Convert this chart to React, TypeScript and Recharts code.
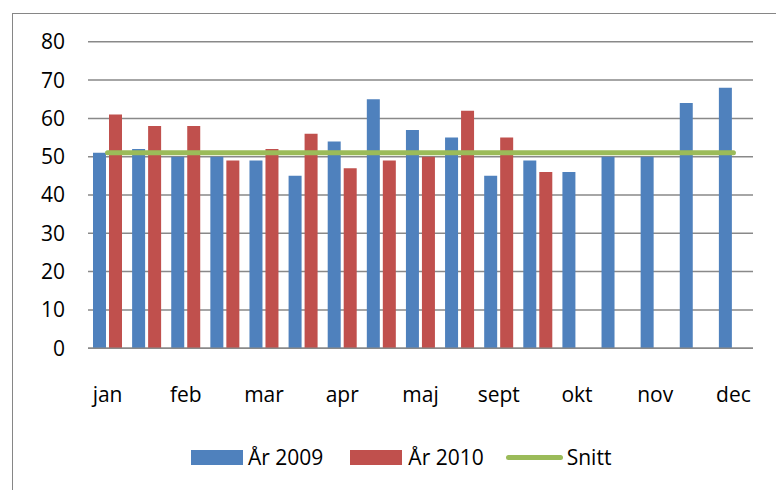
import React from "react";
import { ComposedChart, Bar, Line, XAxis, YAxis, CartesianGrid } from "recharts";

const categories = ["jan", "", "feb", "", "mar", "", "apr", "", "maj", "", "sept", "", "okt", "", "nov", "", "dec"];
const year2009 = [51, 52, 50, 50, 49, 45, 54, 65, 57, 55, 45, 49, 46, 50, 50, 64, 68];
const year2010: (number | null)[] = [61, 58, 58, 49, 52, 56, 47, 49, 50, 62, 55, 46, null, null, null, null, null];
const snitt = [51, 51, 51, 51, 51, 51, 51, 51, 51, 51, 51, 51, 51, 51, 51, 51, 51];
const yTicks = [0, 10, 20, 30, 40, 50, 60, 70, 80];
const seriesNames = ["År 2009", "År 2010", "Snitt"];

const BLUE = "#4F81BD";
const RED = "#C0504D";
const GREEN = "#9BBB59";
const FONT = "'Open Sans', sans-serif";

const data = categories.map((c, i) => ({
  idx: i,
  cat: c,
  a2009: year2009[i],
  a2010: year2010[i],
  snitt: snitt[i],
}));

const LegendBlock = () => (
  <div
    style={{
      position: "absolute",
      left: 191,
      top: 444,
      display: "flex",
      alignItems: "center",
      fontFamily: FONT,
      fontSize: 21,
      color: "#000",
      whiteSpace: "nowrap",
      height: 26,
    }}
  >
    <div style={{ width: 52, height: 15, background: BLUE }} />
    <span style={{ marginLeft: 5 }}>{seriesNames[0]}</span>
    <div style={{ width: 52, height: 15, background: RED, marginLeft: 27 }} />
    <span style={{ marginLeft: 6 }}>{seriesNames[1]}</span>
    <div style={{ width: 57, height: 5, background: GREEN, marginLeft: 22, borderRadius: 3 }} />
    <span style={{ marginLeft: 4 }}>{seriesNames[2]}</span>
  </div>
);

export default function App() {
  return (
    <div style={{ position: "absolute", left: 0, top: 0, width: 776, height: 490, overflow: "hidden", background: "#fff" }}>
      <div
        style={{
          position: "absolute",
          left: 12,
          top: 13,
          width: 800,
          height: 500,
          borderLeft: "1px solid #868686",
          borderTop: "1px solid #868686",
        }}
      />
      <div style={{ position: "absolute", left: 0, top: 0 }}>
        <ComposedChart
          width={776}
          height={490}
          data={data}
          margin={{ top: 41.8, right: 23, bottom: 101.8, left: 0 }}
          barGap={3}
        >
          <CartesianGrid horizontal vertical={false} stroke="#898989" strokeWidth={1.5} />
          <XAxis
            dataKey="idx"
            type="category"
            tickFormatter={(v: number) => categories[v]}
            interval={0}
            tickLine={false}
            axisLine={{ stroke: "#898989", strokeWidth: 1.5 }}
            tickSize={6}
            tickMargin={33}
            height={40}
            tick={{ fill: "#000", fontFamily: FONT, fontSize: 21 }}
          />
          <YAxis
            width={88}
            domain={[0, 80]}
            ticks={yTicks}
            interval={0}
            axisLine={false}
            tickLine={false}
            tickSize={6}
            tickMargin={17}
            tick={{ fill: "#000", fontFamily: FONT, fontSize: 21 }}
          />
          <Bar dataKey="a2009" name={seriesNames[0]} fill={BLUE} barSize={13} isAnimationActive={false} />
          <Bar dataKey="a2010" name={seriesNames[1]} fill={RED} barSize={13} isAnimationActive={false} />
          <Line
            dataKey="snitt"
            name={seriesNames[2]}
            stroke={GREEN}
            strokeWidth={5}
            strokeLinecap="round"
            dot={false}
            activeDot={false}
            isAnimationActive={false}
          />
        </ComposedChart>
      </div>
      <LegendBlock />
    </div>
  );
}
